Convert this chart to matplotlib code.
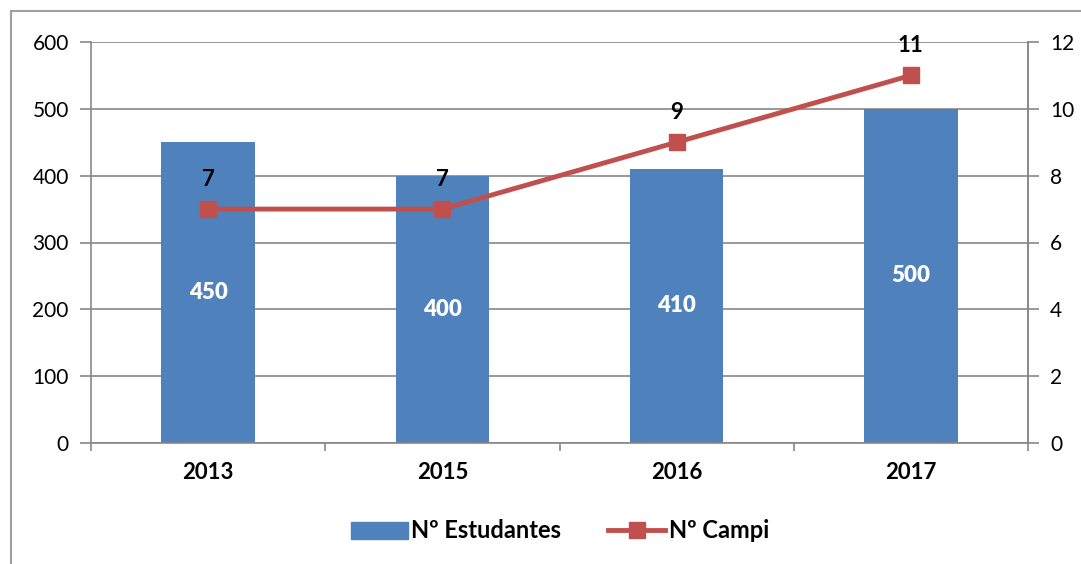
import matplotlib.pyplot as plt
from matplotlib.patches import Rectangle
from matplotlib.lines import Line2D

anos = ["2013", "2015", "2016", "2017"]
estudantes = [450, 400, 410, 500]
campi = [7, 7, 9, 11]

plt.rcParams['font.family'] = ['Lato', 'DejaVu Sans']

fig = plt.figure(figsize=(10.81, 5.64), dpi=100)
ax = fig.add_axes([91/1081, 121/564, 937/1081, 401/564])
ax2 = ax.twinx()

# moldura externa
fig.patches.append(Rectangle((11/1081, -0.05), 1.1, (564-11)/564 + 0.05,
                             transform=fig.transFigure, fill=False,
                             edgecolor='#a0a0a0', linewidth=1.5))

x = list(range(len(anos)))
bars = ax.bar(x, estudantes, width=0.4, color='#4F81BD', zorder=2)
for xi, v in zip(x, estudantes):
    ax.text(xi, v/2, str(v), ha='center', va='center', color='white',
            fontsize=16, fontweight='heavy')

ax.set_ylim(0, 600)
ax.set_yticks(range(0, 601, 100))
ax.set_xlim(-0.5, 3.5)
ax.set_xticks(x)
ax.set_xticklabels(anos, fontsize=16, fontweight='bold')
ax.set_xticks([-0.5, 0.5, 1.5, 2.5, 3.5], minor=True)
ax.tick_params(axis='x', which='major', length=0, pad=14)
ax.tick_params(axis='x', which='minor', length=6, color='#888888', width=1.2)
ax.tick_params(axis='y', labelsize=15, length=8, color='#888888', width=1.2, pad=8)
ax.grid(axis='y', color='#888888', linewidth=1.2, zorder=0)
ax.set_axisbelow(True)
for s in ['top']:
    ax.spines[s].set_visible(False)
for s in ['left', 'bottom', 'right']:
    ax.spines[s].set_color('#888888')
    ax.spines[s].set_linewidth(1.2)

ax2.plot(x, campi, color='#C0504D', linewidth=3.5, marker='s', markersize=12, zorder=3)
for xi, v in zip(x, campi):
    ax2.annotate(str(v), (xi, v), xytext=(0, 14), textcoords='offset points',
                 ha='center', va='bottom', fontsize=16, fontweight='bold')
ax2.set_ylim(0, 12)
ax2.set_yticks(range(0, 13, 2))
ax2.tick_params(axis='y', labelsize=15, length=8, color='#888888', width=1.2, pad=8)
for s in ['top', 'left', 'bottom']:
    ax2.spines[s].set_visible(False)
ax2.spines['right'].set_color('#888888')
ax2.spines['right'].set_linewidth(1.2)

handles = [Rectangle((0, 0), 1, 1, color='#4F81BD'),
           Line2D([], [], color='#C0504D', linewidth=3.5, marker='s', markersize=12)]
fig.legend(handles, ["Nº Estudantes", "Nº Campi"], loc='center',
           bbox_to_anchor=(0.518, 33/564), ncol=2, frameon=False,
           prop={'size': 17, 'weight': 'bold'}, handlelength=2.4,
           handletextpad=0.15, columnspacing=2.0)

fig.savefig("out.png", dpi=100)
